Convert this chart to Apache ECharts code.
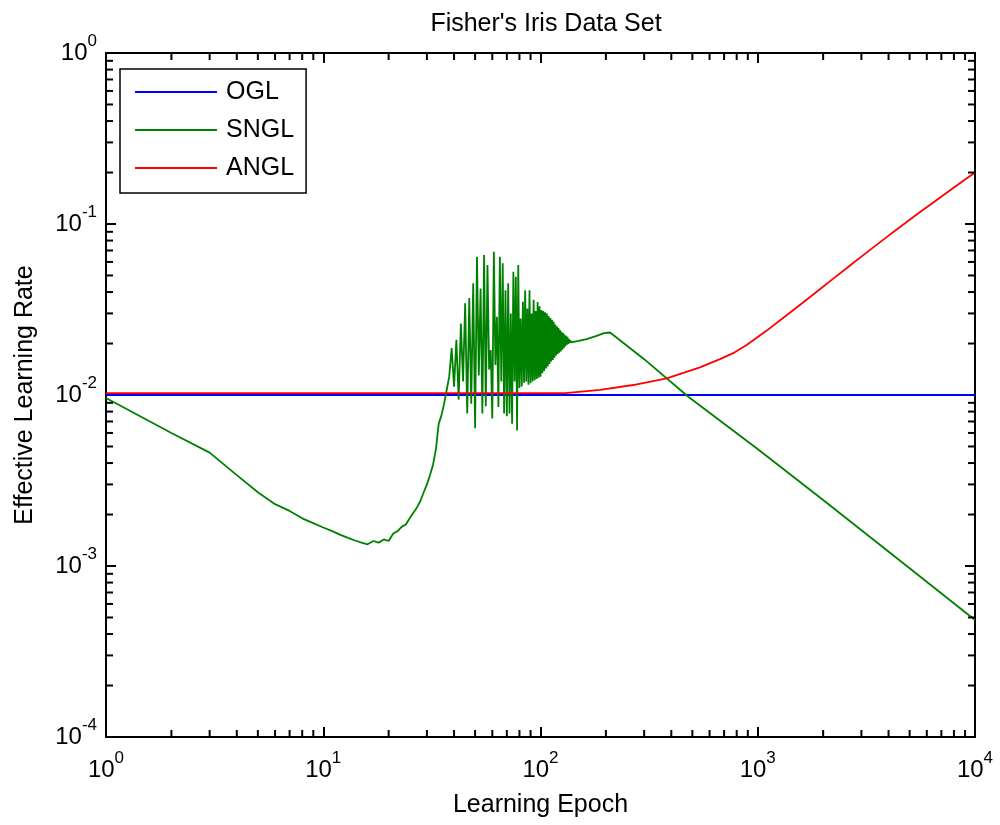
<!DOCTYPE html>
<html>
<head>
<meta charset="utf-8">
<script src="https://cdn.jsdelivr.net/npm/echarts@6/dist/echarts.min.js"></script>
<style>
html,body{margin:0;padding:0;background:#fff;}
#chart{width:1000px;height:825px;}
</style>
</head>
<body>
<div id="chart"></div>
<script>
// ---- data ----
const seriesNames = ['OGL', 'SNGL', 'ANGL'];

const oglEpoch = [1, 10000];
const oglRate  = [0.01, 0.01];

const snglEpoch = [1, 2, 3, 4, 5, 6, 7, 8, 9, 10, 11, 12, 13, 14, 15, 16, 17, 18, 19, 20,
  21, 22, 23, 24, 25, 26, 27, 28, 29, 30, 31, 32, 33, 34, 35, 36, 37, 38, 39, 40,
  41, 42, 43, 44, 45, 46, 47, 48, 49, 50, 51, 52, 53, 54, 55, 56, 57, 58, 59, 60,
  61, 62, 63, 64, 65, 66, 67, 68, 69, 70, 71, 72, 73, 74, 75, 76, 77, 78, 79, 80,
  81, 82, 83, 84, 85, 86, 87, 88, 89, 90, 91, 92, 93, 94, 95, 96, 97, 98, 99, 100,
  101, 102, 103, 104, 105, 106, 107, 108, 109, 110, 111, 112, 113, 114, 115, 116, 117, 118, 119, 120,
  121, 122, 123, 124, 125, 126, 127, 128, 129, 130, 131, 132, 133, 134, 135, 136, 137, 138, 140,
  150, 163, 180, 196, 209, 300, 479, 988, 2000, 5000, 10000];
const snglRate = [0.0096, 0.0060, 0.0046, 0.0034, 0.0027, 0.0023, 0.0021, 0.0019, 0.00178, 0.00168,
  0.0016, 0.00152, 0.00146, 0.00141, 0.00137, 0.00134, 0.0014, 0.00137, 0.00143, 0.0014,
  0.00155, 0.0016, 0.0017, 0.00175, 0.0019, 0.00205, 0.0022, 0.0024, 0.0027, 0.0030,
  0.0034, 0.0039, 0.0048, 0.0068, 0.0076, 0.0089, 0.0107, 0.0128, 0.0188, 0.0112,
  0.0210, 0.0094, 0.0262, 0.0120, 0.0344, 0.0078, 0.0369, 0.0089, 0.0450, 0.0064,
  0.0644, 0.0130, 0.0420, 0.0078, 0.0659, 0.0086, 0.0576, 0.0141, 0.0183, 0.0073,
  0.0689, 0.0150, 0.0287, 0.0085, 0.0644, 0.0120, 0.0589, 0.0078, 0.0410, 0.0075,
  0.0450, 0.0078, 0.0300, 0.0068, 0.0526, 0.0120, 0.0492, 0.0062, 0.0576, 0.0110,
  0.0280, 0.0112, 0.0351, 0.0118, 0.0410, 0.0120, 0.0320, 0.0115, 0.0410, 0.0117,
  0.0300, 0.0120, 0.0360, 0.0122, 0.0310, 0.0124, 0.0350, 0.0126, 0.0330, 0.0128,
  0.0314, 0.0134, 0.0310, 0.0138, 0.0305, 0.0143, 0.0300, 0.0147, 0.0290, 0.0152,
  0.0282, 0.0157, 0.0275, 0.0160, 0.0268, 0.0165, 0.0258, 0.0170, 0.0252, 0.0174,
  0.0246, 0.0177, 0.0240, 0.0180, 0.0234, 0.0184, 0.0230, 0.0188, 0.0226, 0.0192,
  0.0222, 0.0196, 0.0219, 0.0199, 0.0213, 0.0201, 0.0209, 0.0203, 0.0205,
  0.0207, 0.0212, 0.0221, 0.0230, 0.0232, 0.0162, 0.00977, 0.00488, 0.00243, 0.00097, 0.000483];

const anglEpoch = [1, 130, 188, 267, 381, 542, 670, 780, 889, 1100, 1312, 1600, 1868, 2227, 2659,
  3200, 3785, 4518, 5390, 6429, 7600, 8800, 10000];
const anglRate  = [0.01025, 0.01025, 0.0107, 0.01144, 0.0125, 0.0145, 0.0162, 0.0177, 0.0196, 0.0238,
  0.0283, 0.0344, 0.0402, 0.0479, 0.0572, 0.0687, 0.0810, 0.0960, 0.1135, 0.1337, 0.1560, 0.1785, 0.200];

// axis ranges and minor-tick mantissas
const xDecades = [1, 10, 100, 1000];
const yDecades = [0.0001, 0.001, 0.01, 0.1];
const minorMantissa = [2, 3, 4, 5, 6, 7, 8, 9];
const X_MIN = 1, X_MAX = 10000, Y_MIN = 0.0001, Y_MAX = 1;

const FONT = "'Liberation Sans', Arial, Helvetica, sans-serif";
const colors = ['#0000ff', '#008000', '#ff0000'];

function pairs(xs, ys) { return xs.map((x, i) => [x, ys[i]]); }

const minorData = [];
xDecades.forEach(d => minorMantissa.forEach(m => minorData.push([m * d, Y_MIN, 0])));
yDecades.forEach(d => minorMantissa.forEach(m => minorData.push([X_MIN, m * d, 1])));

function powLabel(v) {
  const e = Math.round(Math.log10(v));
  return '{b|10}{s|' + e + '}';
}
const labelRich = {
  b: { fontSize: 24, fontFamily: FONT, color: '#000', lineHeight: 40, verticalAlign: 'middle' },
  s: { fontSize: 17, fontFamily: FONT, color: '#000', lineHeight: 17, verticalAlign: 'top' }
};

const axisLine = { show: true, lineStyle: { color: '#000', width: 2 } };
const axisTick = { show: true, inside: true, length: 10, lineStyle: { color: '#000', width: 2 } };

const chart = echarts.init(document.getElementById('chart'), null, { renderer: 'canvas' });
chart.setOption({
  animation: false,
  backgroundColor: '#fff',
  title: {
    text: "Fisher's Iris Data Set",
    left: 541, top: 7, textAlign: 'center',
    textStyle: { fontFamily: FONT, fontSize: 25, fontWeight: 'normal', color: '#000' }
  },
  grid: { left: 106, right: 25, top: 53, bottom: 88, containLabel: false },
  legend: {
    data: seriesNames,
    orient: 'vertical',
    left: 120, top: 69,
    padding: [9, 12, 11, 15],
    itemGap: 10,
    itemWidth: 82, itemHeight: 2,
    icon: 'rect',
    backgroundColor: '#fff',
    borderColor: '#000', borderWidth: 1.5, borderRadius: 0,
    textStyle: { fontFamily: FONT, fontSize: 25, color: '#000', lineHeight: 28, padding: [0, 0, 0, 4] }
  },
  xAxis: [{
    type: 'log', logBase: 10, min: X_MIN, max: X_MAX, position: 'bottom',
    name: 'Learning Epoch', nameLocation: 'middle', nameGap: 56,
    nameTextStyle: { fontFamily: FONT, fontSize: 25, color: '#000' },
    axisLine: axisLine, axisTick: axisTick, splitLine: { show: false },
    axisLabel: { formatter: powLabel, rich: labelRich, margin: 13 }
  }, {
    type: 'log', logBase: 10, min: X_MIN, max: X_MAX, position: 'top',
    axisLine: axisLine, axisTick: axisTick, splitLine: { show: false },
    axisLabel: { show: false }
  }],
  yAxis: [{
    type: 'log', logBase: 10, min: Y_MIN, max: Y_MAX, position: 'left',
    name: 'Effective Learning Rate', nameLocation: 'middle', nameGap: 68, nameRotate: 90,
    nameTextStyle: { fontFamily: FONT, fontSize: 25, color: '#000' },
    axisLine: axisLine, axisTick: axisTick, splitLine: { show: false },
    axisLabel: { formatter: powLabel, rich: labelRich, margin: 9 }
  }, {
    type: 'log', logBase: 10, min: Y_MIN, max: Y_MAX, position: 'right',
    axisLine: axisLine, axisTick: axisTick, splitLine: { show: false },
    axisLabel: { show: false }
  }],
  series: [{
    name: 'OGL', type: 'line', data: pairs(oglEpoch, oglRate),
    showSymbol: false, symbol: 'none', color: colors[0],
    lineStyle: { color: colors[0], width: 2 }, z: 3
  }, {
    name: 'SNGL', type: 'line', data: pairs(snglEpoch, snglRate),
    showSymbol: false, symbol: 'none', color: colors[1],
    lineStyle: { color: colors[1], width: 1.8 }, z: 4
  }, {
    name: 'ANGL', type: 'line', data: pairs(anglEpoch, anglRate),
    showSymbol: false, symbol: 'none', color: colors[2],
    lineStyle: { color: colors[2], width: 1.8 }, z: 5
  }, {
    name: 'minorTicks', type: 'custom', silent: true, clip: false, z: 6,
    data: minorData,
    renderItem: function (params, api) {
      const kind = api.value(2);
      const p = api.coord([api.value(0), api.value(1)]);
      const lo = api.coord([X_MIN, Y_MIN]);
      const hi = api.coord([X_MAX, Y_MAX]);
      const st = { stroke: '#000', lineWidth: 2 };
      let lines;
      if (kind === 0) {
        lines = [[p[0], lo[1], p[0], lo[1] - 7], [p[0], hi[1], p[0], hi[1] + 7]];
      } else {
        lines = [[lo[0], p[1], lo[0] + 7, p[1]], [hi[0], p[1], hi[0] - 7, p[1]]];
      }
      return {
        type: 'group',
        children: lines.map(l => ({ type: 'line', shape: { x1: l[0], y1: l[1], x2: l[2], y2: l[3] }, style: st }))
      };
    }
  }]
});
</script>
</body>
</html>
